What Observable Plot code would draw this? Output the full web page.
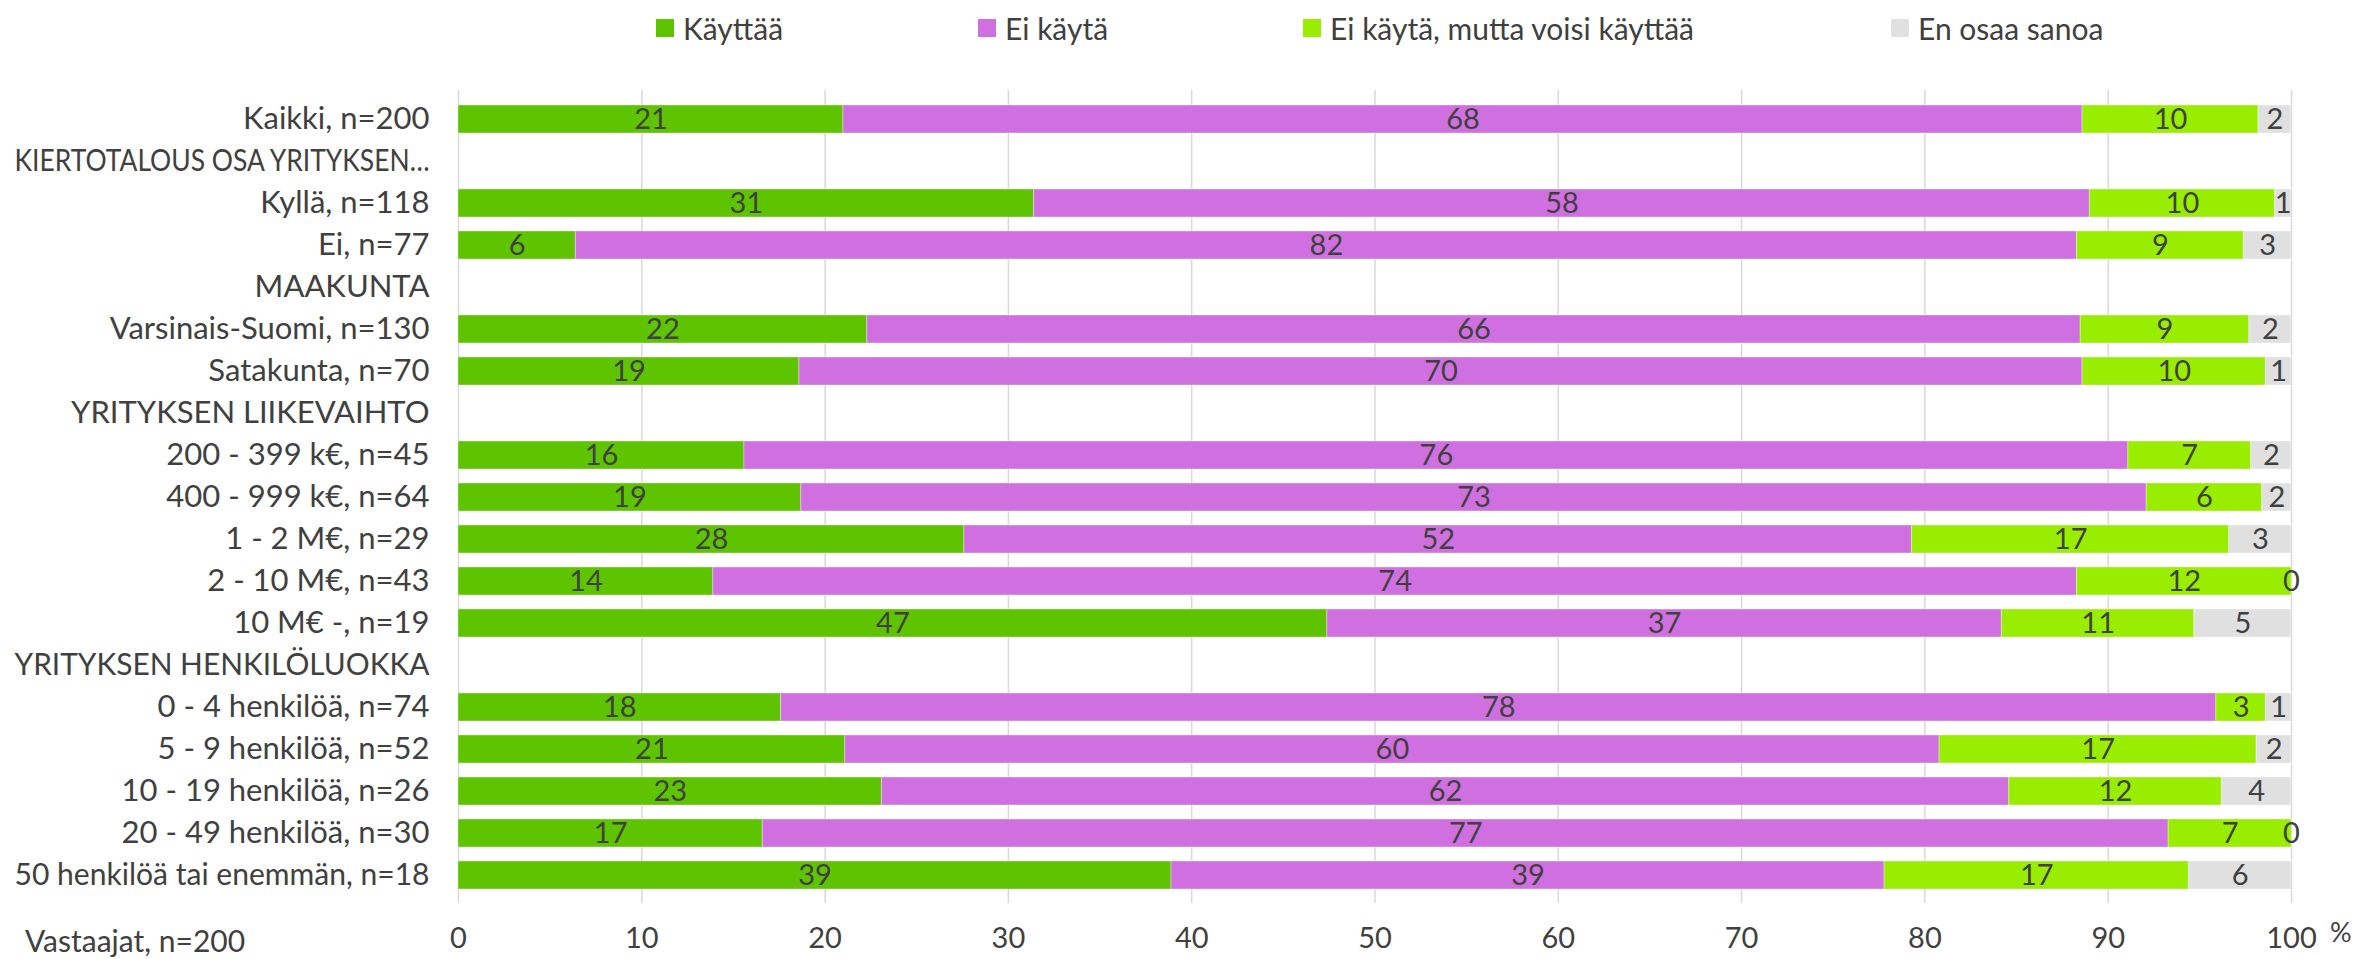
<!DOCTYPE html>
<html><head><meta charset="utf-8">
<script src="https://cdn.jsdelivr.net/npm/d3@7"></script>
<script src="https://cdn.jsdelivr.net/npm/@observablehq/plot@0.6"></script>
<style>
body{margin:0;background:#fff;}
#wrap{position:relative;width:2356px;height:959px;font-family:Lato,"Liberation Sans",sans-serif;color:#404040;overflow:hidden;}
#legend{position:relative;height:56px;}
.item{position:absolute;top:0;height:56px;display:flex;align-items:center;font-size:30px;white-space:nowrap;}
.sw{width:18px;height:18px;margin-right:9px;flex:none;}
#note{position:absolute;left:25px;top:922px;line-height:36px;font-size:30px;}
#pct{position:absolute;left:2330px;top:914px;line-height:36px;font-size:27px;}
#chart svg{display:block;}
</style></head>
<body><div id="wrap"><div id="legend"></div><div id="chart"></div><div id="note">Vastaajat, n=200</div><div id="pct">%</div></div>
<script>
const categories = [
  "Kaikki, n=200",
  "KIERTOTALOUS OSA YRITYKSEN…",
  "Kyllä, n=118",
  "Ei, n=77",
  "MAAKUNTA",
  "Varsinais-Suomi, n=130",
  "Satakunta, n=70",
  "YRITYKSEN LIIKEVAIHTO",
  "200 - 399 k€, n=45",
  "400 - 999 k€, n=64",
  "1 - 2 M€, n=29",
  "2 - 10 M€, n=43",
  "10 M€ -, n=19",
  "YRITYKSEN HENKILÖLUOKKA",
  "0 - 4 henkilöä, n=74",
  "5 - 9 henkilöä, n=52",
  "10 - 19 henkilöä, n=26",
  "20 - 49 henkilöä, n=30",
  "50 henkilöä tai enemmän, n=18"
];
const seriesNames = ["Käyttää", "Ei käytä", "Ei käytä, mutta voisi käyttää", "En osaa sanoa"];
const seriesColors = ["#5ec400", "#d070e0", "#99ee00", "#e0e0e0"];
const kayttaa = [21.0, null, 31.4, 6.4, null, 22.3, 18.6, null, 15.6, 18.7, 27.6, 13.9, 47.4, null, 17.6, 21.1, 23.1, 16.6, 38.9];
const eiKayta = [67.6, null, 57.6, 81.9, null, 66.2, 70.0, null, 75.5, 73.4, 51.7, 74.4, 36.8, null, 78.3, 59.7, 61.5, 76.7, 38.9];
const voisiKayttaa = [9.6, null, 10.1, 9.1, null, 9.2, 10.0, null, 6.7, 6.3, 17.3, 11.7, 10.5, null, 2.7, 17.3, 11.6, 6.7, 16.6];
const enOsaaSanoa = [1.8, null, 0.9, 2.6, null, 2.3, 1.4, null, 2.2, 1.6, 3.4, 0, 5.3, null, 1.4, 1.9, 3.8, 0, 5.6];
const xTicks = [0, 10, 20, 30, 40, 50, 60, 70, 80, 90, 100];

const seriesValues = [kayttaa, eiKayta, voisiKayttaa, enOsaaSanoa];
const rows = [];
categories.forEach((cat, i) => {
  seriesValues.forEach((vals, s) => {
    if (vals[i] != null) rows.push({cat, series: seriesNames[s], value: vals[i]});
  });
});

// legend
const legendLefts = [656, 978, 1303, 1891];
const legend = document.getElementById("legend");
seriesNames.forEach((name, i) => {
  const it = document.createElement("div");
  it.className = "item";
  it.style.left = legendLefts[i] + "px";
  it.innerHTML = `<span class="sw" style="background:${seriesColors[i]}"></span><span>${name}</span>`;
  legend.appendChild(it);
});

const chart = Plot.plot({
  width: 2356, height: 903,
  marginLeft: 458, marginRight: 65, marginTop: 34, marginBottom: 56,
  style: {fontFamily: 'Lato,"Liberation Sans",sans-serif', fontSize: "29px", color: "#404040", background: "#fff"},
  x: {domain: [0, 100]},
  y: {domain: categories, paddingInner: 0.345, paddingOuter: 0.1725},
  color: {domain: seriesNames, range: seriesColors},
  marks: [
    Plot.ruleX(xTicks, {stroke: "#d9d9d9", strokeWidth: 1.5}),
    Plot.axisX({ticks: xTicks, tickSize: 0, tickPadding: 24, fontSize: 29, label: null}),
    Plot.axisY({tickSize: 0, tickPadding: 29, fontSize: 31, label: null}),
    Plot.barX(rows, Plot.stackX({x: "value", y: "cat", fill: "series", stroke: "#ffffff", strokeOpacity: 0.35, strokeWidth: 1})),
    Plot.text(rows, Plot.stackX({x: "value", y: "cat", z: "series", text: d => Math.round(d.value), fill: "#404040", fontSize: 29}))
  ]
});
document.getElementById("chart").appendChild(chart);

// keep long y labels inside the left margin (like the reference, which squeezes them)
d3.select(chart).selectAll('g[aria-label="y-axis tick label"] text').each(function() {
  const L = this.getComputedTextLength();
  if (L > 415) {
    this.setAttribute("textLength", 415);
    this.setAttribute("lengthAdjust", "spacingAndGlyphs");
  }
});
</script>
</body></html>
